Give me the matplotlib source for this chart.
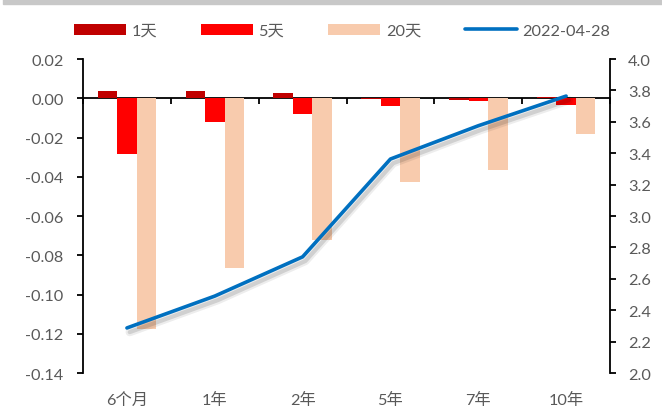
import matplotlib
matplotlib.use('Agg')
import matplotlib.pyplot as plt
import matplotlib.patheffects as pe
from matplotlib.patches import Rectangle
from matplotlib.lines import Line2D
from matplotlib.ticker import MultipleLocator, FormatStrFormatter
import numpy as np

categories = ['6个月', '1年', '2年', '5年', '7年', '10年']
chg_1d = [0.0036, 0.0036, 0.0027, -0.0005, -0.001, 0.0005]
chg_5d = [-0.0285, -0.012, -0.008, -0.004, -0.0015, -0.0036]
chg_20d = [-0.1175, -0.0865, -0.0723, -0.0427, -0.0366, -0.018]
yield_0428 = [2.287, 2.49, 2.74, 3.363, 3.575, 3.764]

plt.rcParams['font.family'] = ['Lato', 'Noto Sans CJK SC', 'DejaVu Sans']
plt.rcParams['axes.unicode_minus'] = False
text_color = '#595959'
fs = 11.7

fig = plt.figure(figsize=(6.62, 4.14), dpi=100)
ax = fig.add_axes([0.1254, 0.0966, 0.7961, 0.7584])
ax2 = ax.twinx()

# grey strip across the top of the picture
fig.patches.append(Rectangle((0.005, 0.988), 0.995, 0.012, transform=fig.transFigure,
                             color='#C8C8C8', zorder=0))

x = np.arange(len(categories))
w = 0.222
ax.bar(x - w, chg_1d, w, color='#C00000', label='1天', zorder=2)
ax.bar(x, chg_5d, w, color='#FF0000', label='5天', zorder=2)
ax.bar(x + w, chg_20d, w, color='#F8CBAD', label='20天', zorder=2)

ax2.plot(x, yield_0428, color='#0070C0', lw=2.6, solid_capstyle='round',
         path_effects=[pe.SimpleLineShadow(offset=(2, -3), shadow_color='black', alpha=0.07, linewidth=6),
                       pe.SimpleLineShadow(offset=(2, -3), shadow_color='black', alpha=0.12, linewidth=3),
                       pe.Normal()])

ax.set_xlim(-0.5, len(categories) - 0.5)
ax.set_ylim(-0.14, 0.02)
ax2.set_ylim(2.0, 4.0)
ax.yaxis.set_major_locator(MultipleLocator(0.02))
ax.yaxis.set_major_formatter(FormatStrFormatter('%.2f'))
ax2.yaxis.set_major_locator(MultipleLocator(0.2))
ax2.yaxis.set_major_formatter(FormatStrFormatter('%.1f'))

for a in (ax, ax2):
    a.spines['top'].set_visible(False)
    a.spines['bottom'].set_visible(False)
ax.spines['right'].set_visible(False)
ax2.spines['left'].set_visible(False)
ax.spines['left'].set_linewidth(1.3)
ax2.spines['right'].set_linewidth(1.3)

ax.set_xticks(x)
ax.set_xticklabels(categories)
ax.tick_params(axis='x', length=0, pad=14, labelsize=fs, labelcolor=text_color)
ax.tick_params(axis='y', direction='out', length=4, width=1.3, labelsize=fs,
               labelcolor=text_color, pad=10)
ax2.tick_params(axis='y', direction='out', length=4, width=1.3, labelsize=fs,
                labelcolor=text_color, pad=9)

# zero line with ticks at the category borders
sec = ax.secondary_xaxis(0, transform=ax.transData)
sec.spines['bottom'].set_linewidth(1.3)
sec.set_xticks(np.arange(len(categories) + 1) - 0.5)
sec.tick_params(axis='x', direction='out', length=4, width=1.3, labelbottom=False)

h1, l1 = ax.get_legend_handles_labels()
line_handle = Line2D([], [], color='#0070C0', lw=2.6, solid_capstyle='round')
fig.legend(h1 + [line_handle], l1 + ['2022-04-28'], loc='center',
           bbox_to_anchor=(0.5166, 0.923), ncol=4,
           frameon=False, fontsize=fs, labelcolor=text_color, handlelength=3.2,
           handleheight=0.7, handletextpad=0.35, columnspacing=2.7)

fig.savefig('out.png', dpi=100)
